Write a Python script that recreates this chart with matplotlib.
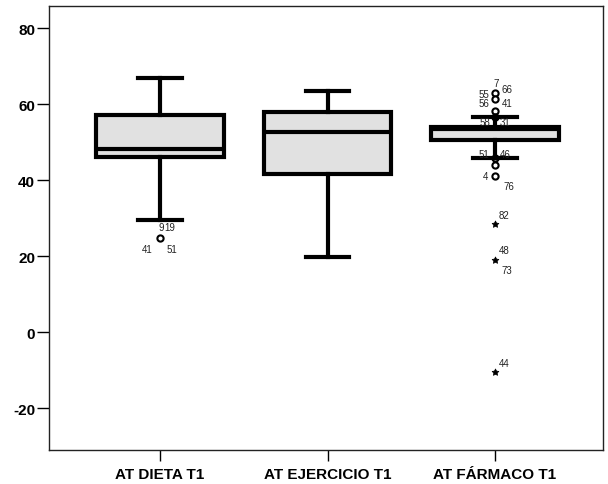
import matplotlib
matplotlib.use("Agg")
import matplotlib.pyplot as plt

plt.rcParams['font.family'] = ['Liberation Sans', 'DejaVu Sans']

# Datos
categorias = ["AT DIETA T1", "AT EJERCICIO T1", "AT FÁRMACO T1"]
bigote_inf = [29.6, 19.8, 45.7]
q1 = [46.0, 41.6, 50.6]
mediana = [48.2, 52.6, 53.4]
q3 = [57.1, 57.9, 53.9]
bigote_sup = [66.8, 63.4, 56.5]

# Atípicos (círculos) y extremos (asteriscos): (grupo, valor)
atipicos = [(1, 24.7), (3, 62.9), (3, 61.3), (3, 58.2), (3, 56.5), (3, 45.7), (3, 44.0), (3, 41.0)]
extremos = [(3, 28.4), (3, 18.9), (3, -10.6)]

# Etiquetas de casos: (grupo, valor, texto)
etiquetas = [
    (1, 24.7, "9"), (1, 24.7, "19"), (1, 24.7, "41"), (1, 24.7, "51"),
    (3, 62.9, "7"), (3, 62.9, "66"), (3, 61.3, "55"),
    (3, 58.2, "56"), (3, 58.2, "41"),
    (3, 56.5, "58"), (3, 56.5, "31"),
    (3, 45.7, "51"), (3, 45.7, "46"),
    (3, 41.0, "4"), (3, 41.0, "76"),
    (3, 28.4, "82"), (3, 18.9, "48"), (3, 18.9, "73"), (3, -10.6, "44"),
]
# desplazamientos de las etiquetas en píxeles (estilo)
desplaz = [
    (1, 11), (10, 11), (-13, -11), (12, -11),
    (1, 10), (12, 4), (-11, 5),
    (-11, 8), (12, 8),
    (-10, -5), (10, -5),
    (-11, 4), (10, 4),
    (-9, 0), (14, -10),
    (9, 9), (9, 10), (12, -10), (9, 9),
]

fig = plt.figure(figsize=(6.08, 4.85), dpi=100)
ax = fig.add_axes([0.0806, 0.0701, 0.9112, 0.9155])

stats = []
for i in range(3):
    stats.append(dict(med=mediana[i], q1=q1[i], q3=q3[i],
                      whislo=bigote_inf[i], whishi=bigote_sup[i], fliers=[]))

lw = 3.0
ax.bxp(stats, positions=[1, 2, 3], widths=0.76, patch_artist=True,
       showfliers=False,
       boxprops=dict(facecolor="#e1e1e1", edgecolor="black", linewidth=lw),
       medianprops=dict(color="black", linewidth=lw),
       whiskerprops=dict(color="black", linewidth=lw),
       capprops=dict(color="black", linewidth=lw), capwidths=0.26,
       zorder=3)

ax.scatter([g for g, v in atipicos], [v for g, v in atipicos], s=20,
           facecolors="white", edgecolors="black", linewidths=1.5, zorder=2)
ax.scatter([g for g, v in extremos], [v for g, v in extremos], s=26,
           marker=(5, 1, 0), color="black", linewidths=0.5, zorder=2)

for (g, v, t), (dx, dy) in zip(etiquetas, desplaz):
    ax.annotate(t, (g, v), xytext=(dx, dy), textcoords="offset pixels",
                ha="center", va="center", fontsize=7, color="#222222", zorder=4)

ax.set_xlim(0.337, 3.645)
ax.set_ylim(-31.05, 85.8)
ax.set_xticks([1, 2, 3])
ax.set_xticklabels(categorias, fontsize=11, fontweight="bold")
ax.set_yticks([-20, 0, 20, 40, 60, 80])
ax.set_yticklabels(["-20", "0", "20", "40", "60", "80"], fontsize=11, fontweight="bold")
ax.tick_params(axis="y", length=9, width=1, pad=1)
ax.tick_params(axis="x", length=8, width=1, pad=4)
for s in ax.spines.values():
    s.set_linewidth(1)
    s.set_color("#222222")

fig.savefig("out.png", dpi=100)
